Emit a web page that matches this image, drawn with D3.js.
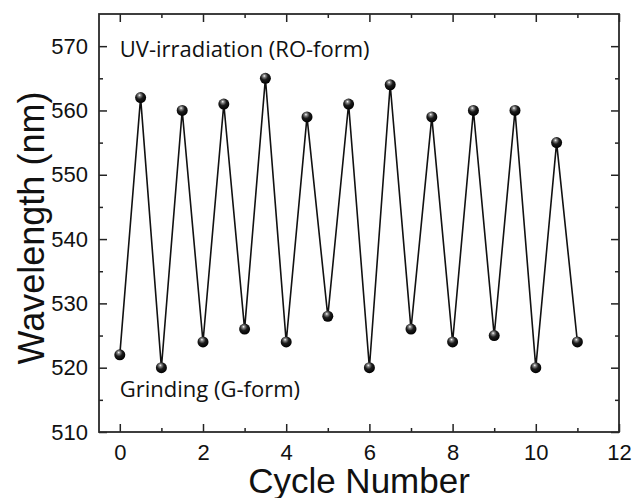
<!DOCTYPE html>
<html>
  <head>
    <meta charset="utf-8">
    <title></title>
    <script src="https://d3js.org/d3.v7.min.js"></script>
  </head>
  <style>
    body { margin: 0; background: #fff; }
    svg text { fill: #111; }
  </style>
  <body>
  <svg width="634" height="498"></svg>
  <script>

  // cycle position (half cycles: grinding at integers, UV at .5)
  var cycles = [0, 0.5, 1, 1.5, 2, 2.5, 3, 3.5, 4, 4.5, 5, 5.5, 6, 6.5, 7, 7.5, 8, 8.5, 9, 9.5, 10, 10.5, 11];
  var wavelength = [522, 562, 520, 560, 524, 561, 526, 565, 524, 559, 528, 561, 520, 564, 526, 559, 524, 560, 525, 560, 520, 555, 524];

  var xTicks = [0, 2, 4, 6, 8, 10, 12];
  var xMinor = [1, 3, 5, 7, 9, 11];
  var yTicks = [510, 520, 530, 540, 550, 560, 570];
  var yMinor = [515, 525, 535, 545, 555, 565];

  var labelTop = "UV-irradiation (RO-form)";
  var labelBottom = "Grinding (G-form)";

  var svg = d3.select("svg"),
      margin = {top: 14, right: 15, bottom: 66, left: 99},
      width = +svg.attr("width") - margin.left - margin.right,
      height = +svg.attr("height") - margin.top - margin.bottom,
      g = svg.append("g").attr("transform", "translate(" + margin.left + "," + margin.top + ")");

  var x = d3.scaleLinear().domain([-0.5, 12]).range([0, width]);
  var y = d3.scaleLinear().domain([510, 575]).range([height, 0]);

  var fontTick = "'Liberation Sans', Arial, sans-serif";

  // sphere marker gradient
  var defs = svg.append("defs");
  var grad = defs.append("radialGradient")
    .attr("id", "ball")
    .attr("cx", "0.42").attr("cy", "0.35").attr("r", "0.65")
    .attr("fx", "0.4").attr("fy", "0.28");
  grad.append("stop").attr("offset", "0%").attr("stop-color", "#ffffff");
  grad.append("stop").attr("offset", "18%").attr("stop-color", "#8a8a8a");
  grad.append("stop").attr("offset", "50%").attr("stop-color", "#1c1c1c");
  grad.append("stop").attr("offset", "100%").attr("stop-color", "#000");

  // bottom axis
  var xAxis = g.append("g")
    .attr("transform", "translate(0," + height + ")")
    .call(d3.axisBottom(x).tickValues(xTicks).tickSizeInner(-8).tickSizeOuter(0).tickPadding(12));
  xAxis.selectAll("text").style("font-family", fontTick).style("font-size", "22px");

  g.append("g")
    .attr("transform", "translate(0," + height + ")")
    .call(d3.axisBottom(x).tickValues(xMinor).tickSize(-4).tickFormat(""));

  // left axis
  var yAxis = g.append("g")
    .call(d3.axisLeft(y).tickValues(yTicks).tickSizeInner(-8).tickSizeOuter(0).tickPadding(11));
  yAxis.selectAll("text").style("font-family", fontTick).style("font-size", "22px");

  g.append("g")
    .call(d3.axisLeft(y).tickValues(yMinor).tickSize(-4).tickFormat(""));

  // top and right mirror ticks
  g.append("g")
    .call(d3.axisTop(x).tickValues(xTicks).tickSize(-8).tickFormat(""));
  g.append("g")
    .call(d3.axisTop(x).tickValues(xMinor).tickSize(-4).tickFormat(""));
  g.append("g")
    .attr("transform", "translate(" + width + ",0)")
    .call(d3.axisRight(y).tickValues(yTicks).tickSize(-8).tickFormat(""));
  g.append("g")
    .attr("transform", "translate(" + width + ",0)")
    .call(d3.axisRight(y).tickValues(yMinor).tickSize(-4).tickFormat(""));

  g.selectAll(".tick line").attr("stroke", "#222").attr("stroke-width", 1.5);
  g.selectAll(".domain").remove();

  // frame
  g.append("rect")
    .attr("width", width).attr("height", height)
    .attr("fill", "none").attr("stroke", "#2a2a2a").attr("stroke-width", 1.8);

  // line
  var pts = cycles.map(function(d, i) { return [d, wavelength[i]]; });
  var line = d3.line()
    .x(function(d) { return x(d[0]); })
    .y(function(d) { return y(d[1]); });

  g.append("path")
    .datum(pts)
    .attr("d", line)
    .attr("fill", "none")
    .attr("stroke", "#111")
    .attr("stroke-width", 1.6)
    .attr("stroke-linejoin", "miter");

  g.selectAll("circle")
    .data(pts)
    .enter()
    .append("circle")
    .attr("cx", function(d) { return x(d[0]); })
    .attr("cy", function(d) { return y(d[1]); })
    .attr("r", 5.5)
    .attr("fill", "url(#ball)");

  // annotations
  g.append("text")
    .attr("x", x(0)).attr("y", y(570) + 11)
    .style("font-family", "'Open Sans', sans-serif")
    .style("font-size", "22px")
    .text(labelTop);

  g.append("text")
    .attr("x", x(0)).attr("y", y(515) - 3)
    .style("font-family", "'Open Sans', sans-serif")
    .style("font-size", "22px")
    .text(labelBottom);

  // axis titles
  svg.append("text")
    .attr("x", margin.left + width / 2)
    .attr("y", 493)
    .attr("text-anchor", "middle")
    .style("font-family", fontTick)
    .style("font-size", "35px")
    .text("Cycle Number");

  svg.append("text")
    .attr("transform", "translate(44," + (margin.top + height / 2 + 5) + ") rotate(-90)")
    .attr("text-anchor", "middle")
    .style("font-family", fontTick)
    .style("font-size", "36px")
    .text("Wavelength (nm)");

  </script>
  </body>
</html>
